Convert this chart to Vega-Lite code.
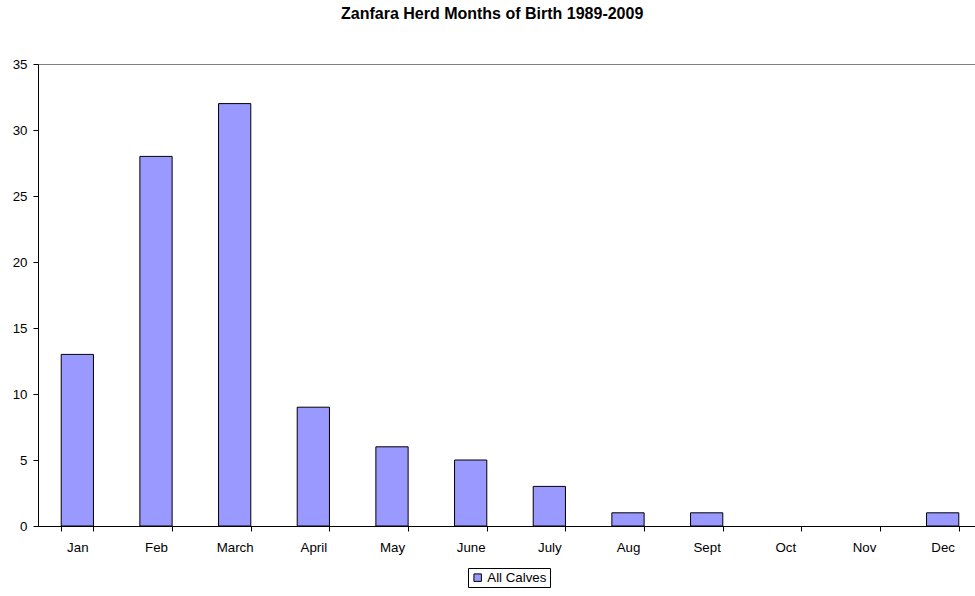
{
  "$schema": "https://vega.github.io/schema/vega-lite/v6.json",
  "autosize": "none",
  "width": 944,
  "height": 462,
  "padding": {"left": 38, "top": 64, "right": 0, "bottom": 70},
  "background": "white",
  "title": {
    "text": "Zanfara Herd Months of Birth 1989-2009",
    "font": "Liberation Sans",
    "fontSize": 16,
    "fontWeight": "bold",
    "color": "black",
    "anchor": "start",
    "frame": "group",
    "dx": 303,
    "offset": 35
  },
  "config": {
    "view": {"stroke": "#808080", "strokeWidth": 1},
    "font": "Liberation Sans"
  },
  "data": {
    "values": [
      {"month": "Jan", "count": 13, "series": "All Calves"},
      {"month": "Feb", "count": 28, "series": "All Calves"},
      {"month": "March", "count": 32, "series": "All Calves"},
      {"month": "April", "count": 9, "series": "All Calves"},
      {"month": "May", "count": 6, "series": "All Calves"},
      {"month": "June", "count": 5, "series": "All Calves"},
      {"month": "July", "count": 3, "series": "All Calves"},
      {"month": "Aug", "count": 1, "series": "All Calves"},
      {"month": "Sept", "count": 1, "series": "All Calves"},
      {"month": "Oct", "count": 0, "series": "All Calves"},
      {"month": "Nov", "count": 0, "series": "All Calves"},
      {"month": "Dec", "count": 1, "series": "All Calves"}
    ]
  },
  "mark": {"type": "bar", "stroke": "black", "strokeWidth": 1},
  "encoding": {
    "x": {
      "field": "month",
      "type": "nominal",
      "sort": null,
      "scale": {"paddingInner": 0.59, "paddingOuter": 0.295},
      "axis": {
        "title": null,
        "labelAngle": 0,
        "labelFont": "Liberation Sans",
        "labelFontSize": 13.3,
        "labelColor": "black",
        "labelPadding": 9,
        "domainColor": "black",
        "tickColor": "black",
        "tickSize": 5,
        "tickBand": "extent",
        "grid": false
      }
    },
    "y": {
      "field": "count",
      "type": "quantitative",
      "scale": {"domain": [0, 35], "nice": false},
      "axis": {
        "title": null,
        "values": [0, 5, 10, 15, 20, 25, 30, 35],
        "labelFont": "Liberation Sans",
        "labelFontSize": 13.3,
        "labelColor": "black",
        "labelPadding": 6,
        "domainColor": "black",
        "tickColor": "black",
        "tickSize": 5,
        "grid": false
      }
    },
    "strokeOpacity": {
      "condition": {"test": "datum.count > 0", "value": 1},
      "value": 0
    },
    "fill": {
      "field": "series",
      "type": "nominal",
      "scale": {"range": ["#9999FF"]},
      "legend": {
        "title": null,
        "orient": "none",
        "legendX": 430,
        "legendY": 504,
        "symbolType": "square",
        "symbolSize": 56,
        "symbolStrokeColor": "black",
        "symbolStrokeWidth": 1,
        "labelFont": "Liberation Sans",
        "labelFontSize": 13.3,
        "labelColor": "black",
        "labelOffset": 3,
        "strokeColor": "black",
        "padding": 3,
        "fillColor": "white"
      }
    }
  }
}
